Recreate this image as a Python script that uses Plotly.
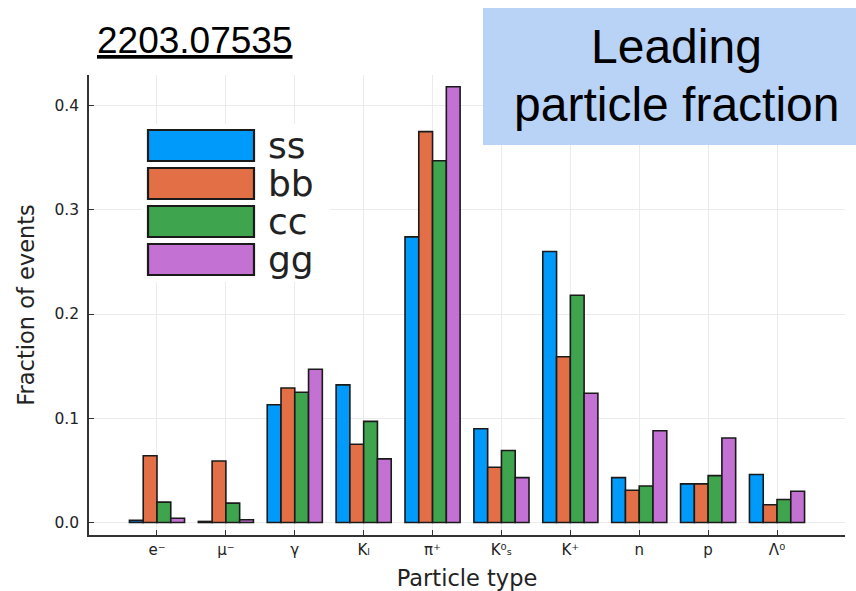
import plotly.graph_objects as go

categories = ["e⁻", "μ⁻", "γ", "Kₗ", "π⁺", "K⁰ₛ", "K⁺", "n", "p", "Λ⁰"]
series_names = ["ss", "bb", "cc", "gg"]
ss = [0.002, 0.001, 0.113, 0.132, 0.274, 0.090, 0.260, 0.043, 0.037, 0.046]
bb = [0.064, 0.059, 0.129, 0.075, 0.375, 0.053, 0.159, 0.031, 0.037, 0.017]
cc = [0.0195, 0.0186, 0.125, 0.097, 0.347, 0.069, 0.218, 0.035, 0.045, 0.022]
gg = [0.004, 0.0026, 0.147, 0.061, 0.418, 0.043, 0.124, 0.088, 0.081, 0.030]
series_values = [ss, bb, cc, gg]
colors = ["#009AFA", "#E36F47", "#3EA44E", "#C371D2"]
y_ticks = [0.0, 0.1, 0.2, 0.3, 0.4]
y_ticklabels = ["0.0", "0.1", "0.2", "0.3", "0.4"]

W, H = 856, 591
L, R, T, B = 89, 11, 75, 56
PW, PH = W - L - R, H - T - B


def px(x):
    return (x - L) / PW


def py(y):
    return (H - B - y) / PH


fig = go.Figure()
for name, vals, col in zip(series_names, series_values, colors):
    fig.add_trace(go.Bar(
        x=categories, y=vals, name=name,
        marker=dict(color=col, line=dict(color="#1a1a1a", width=1.6)),
        showlegend=False,
    ))

shapes = []
annotations = []

# legend background
shapes.append(dict(type="rect", xref="paper", yref="paper",
                   x0=px(142), x1=px(330), y0=py(282), y1=py(124),
                   fillcolor="white", line=dict(width=0), layer="above"))
sw_top = [130, 168, 206, 244]
for name, col, t in zip(series_names, colors, sw_top):
    shapes.append(dict(type="rect", xref="paper", yref="paper",
                       x0=px(148), x1=px(254), y0=py(t + 31), y1=py(t),
                       fillcolor=col, line=dict(color="#1a1a1a", width=2.2),
                       layer="above"))
    annotations.append(dict(xref="paper", yref="paper", x=px(266), y=py(t + 15.5),
                            xanchor="left", yanchor="middle", showarrow=False,
                            text=name, font=dict(family="DejaVu Sans", size=36,
                                                 color="#222222")))

# top-right blue box
shapes.append(dict(type="rect", xref="paper", yref="paper",
                   x0=px(483), x1=px(858), y0=py(145), y1=py(8),
                   fillcolor="#B9D3F7", line=dict(width=0), layer="above"))
annotations.append(dict(xref="paper", yref="paper", x=px(676), y=py(46),
                        xanchor="center", yanchor="middle", showarrow=False,
                        text="Leading", font=dict(family="Liberation Sans", size=48,
                                                  color="black")))
annotations.append(dict(xref="paper", yref="paper", x=px(676), y=py(105),
                        xanchor="center", yanchor="middle", showarrow=False,
                        text="particle fraction",
                        font=dict(family="Liberation Sans", size=48, color="black")))

# arXiv id
annotations.append(dict(xref="paper", yref="paper", x=px(95), y=py(40),
                        xanchor="left", yanchor="middle", showarrow=False,
                        text="<u>2203.07535</u>",
                        font=dict(family="Liberation Sans", size=37, color="black")))

fig.update_layout(
    width=W, height=H,
    margin=dict(l=L, r=R, t=T, b=B),
    paper_bgcolor="white", plot_bgcolor="white",
    barmode="group", bargap=0.2, bargroupgap=0.0,
    shapes=shapes, annotations=annotations,
    font=dict(family="DejaVu Sans", color="#222222"),
    xaxis=dict(
        range=[-0.987, 9.987], type="category", automargin=False,
        showgrid=True, gridcolor="#EBEBEB", gridwidth=1,
        showline=True, linecolor="#333333", linewidth=1.6,
        ticks="inside", ticklen=5, tickcolor="#333333",
        tickfont=dict(size=15, family="DejaVu Sans", color="#222222"),
        title=dict(text="Particle type", font=dict(size=22.5, family="DejaVu Sans"),
                   standoff=14),
        zeroline=False,
    ),
    yaxis=dict(
        range=[-0.012, 0.4293], automargin=False,
        tickvals=y_ticks, ticktext=y_ticklabels,
        showgrid=True, gridcolor="#EBEBEB", gridwidth=1,
        showline=True, linecolor="#333333", linewidth=1.6,
        ticks="inside", ticklen=5, tickcolor="#333333",
        ticklabelstandoff=5,
        tickfont=dict(size=15.5, family="DejaVu Sans", color="#222222"),
        title=dict(text="Fraction of events", font=dict(size=22.5, family="DejaVu Sans"),
                   standoff=14),
        zeroline=False,
    ),
)

fig.write_html("out.html")
